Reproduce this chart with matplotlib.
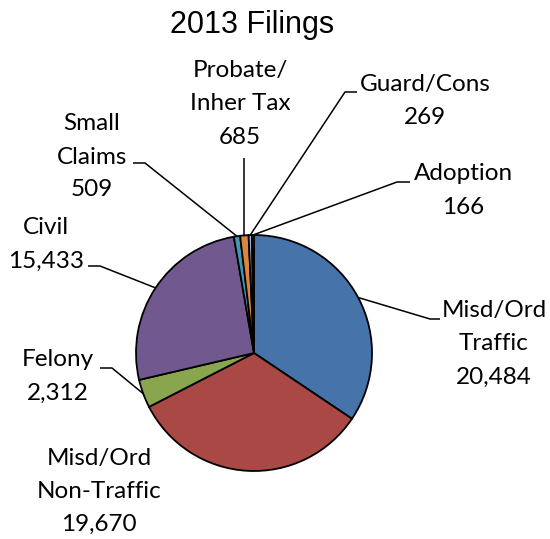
import numpy as np
import matplotlib
matplotlib.use("Agg")
import matplotlib.pyplot as plt

categories = ["Misd/Ord\nTraffic", "Misd/Ord\nNon-Traffic", "Felony", "Civil",
              "Small\nClaims", "Probate/\nInher Tax", "Guard/Cons", "Adoption"]
values = [20484, 19670, 2312, 15433, 509, 685, 269, 166]
colors = ["#4673A9", "#AA4845", "#89A54E", "#71598F", "#3F99B2", "#DC853E", "#A3B4D8", "#D69491"]

W, H = 550, 539
fig = plt.figure(figsize=(W / 100, H / 100), dpi=100)
ax = fig.add_axes([0, 0, 1, 1])

cx, cy, r = 254, 353, 118
Y = lambda y: H - y

ax.pie(values, colors=colors, startangle=90, counterclock=False,
       center=(cx, Y(cy)), radius=r, frame=True,
       wedgeprops=dict(edgecolor="black", linewidth=1.3))
ax.set_xlim(0, W)
ax.set_ylim(0, H)
ax.set_aspect("equal")
ax.axis("off")

ax.text(252, Y(25), "2013 Filings", ha="center", va="center",
        fontsize=22, family="Liberation Sans")

# label layout: (text centre x, first line centre y, leader path or None)
layout = [
    (494, 312, [(430, 319), (440, 319)]),
    (99, 459, None),
    (58, 361, [(112, 368), (100, 368)]),
    (46, 229, [(100, 266), (88, 266)]),
    (92, 125, [(145, 163), (133, 163)]),
    (240, 72, [(None, 158)]),
    (425, 85, [(345, 92), (357, 92)]),
    (463, 175, [(397, 182), (410, 182)]),
]

total = sum(values)
cum = np.cumsum([0] + values)
font = dict(fontsize=17.5, family=["Lato", "DejaVu Sans"])
for i, (cat, val) in enumerate(zip(categories, values)):
    tx, ty, path = layout[i]
    lines = cat.split("\n") + [f"{val:,}"]
    for k, ln in enumerate(lines):
        ax.text(tx, Y(ty + 33 * k) + 1, ln, ha="center", va="center", **font)
    if path:
        mid = (cum[i] + val / 2) / total * 2 * np.pi
        ex, ey = cx + r * np.sin(mid), cy - r * np.cos(mid)
        xs, ys = [ex], [ey]
        for px, py in path:
            xs.append(ex if px is None else px)
            ys.append(py)
        ax.plot(xs, [Y(v) for v in ys], color="black", lw=1.1,
                solid_capstyle="butt", zorder=0)

fig.savefig("out.png", dpi=100)
